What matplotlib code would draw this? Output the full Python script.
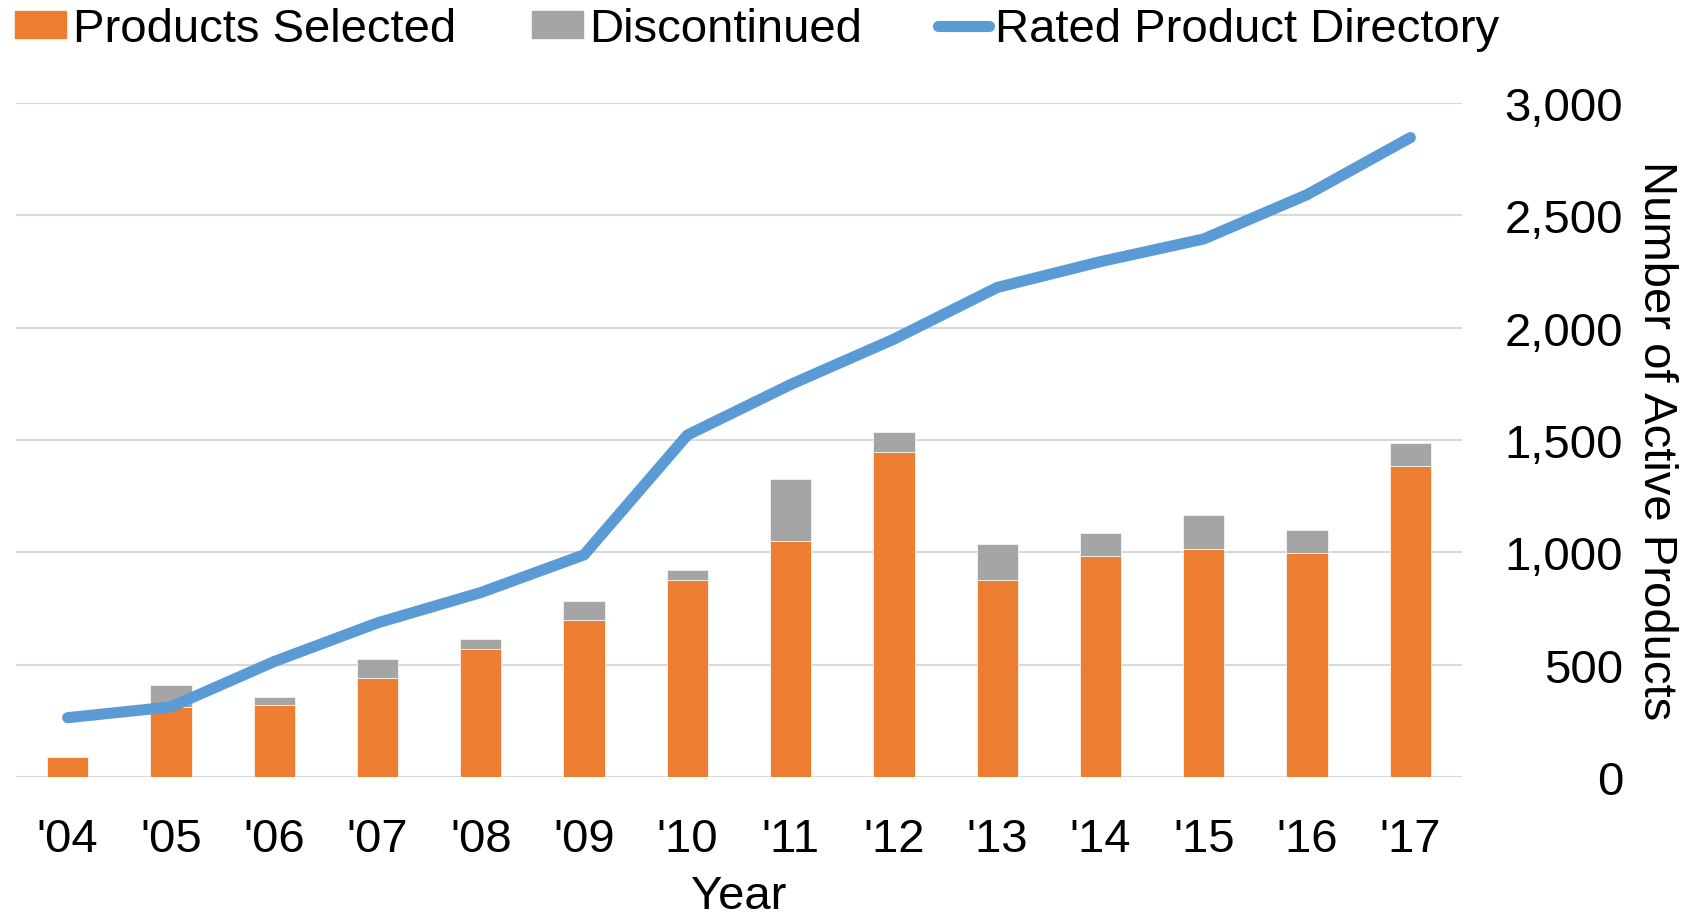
import numpy as np
import matplotlib
matplotlib.use('Agg')
import matplotlib.pyplot as plt
from matplotlib.lines import Line2D
from matplotlib.patches import Patch

plt.rcParams['font.family'] = ['Liberation Sans', 'DejaVu Sans']

# data
years = ["'04", "'05", "'06", "'07", "'08", "'09", "'10",
         "'11", "'12", "'13", "'14", "'15", "'16", "'17"]
selected = [90, 310, 320, 440, 570, 700, 875, 1050, 1445, 875, 985, 1015, 995, 1385]
discontinued = [0, 100, 35, 85, 45, 85, 45, 275, 90, 160, 100, 150, 105, 100]
directory = [264, 312, 514, 686, 821, 989, 1522, 1747, 1949, 2179, 2294, 2395, 2592, 2846]
yticks = [0, 500, 1000, 1500, 2000, 2500, 3000]

orange = '#ED7D31'
gray = '#A5A5A5'
blue = '#5B9BD5'
fs = 34

fig = plt.figure(figsize=(16.95, 9.2), dpi=100)
ax = fig.add_axes([16 / 1695, 142 / 920, 1446 / 1695, 674 / 920])

x = np.arange(len(years))
ax.bar(x, selected, width=0.4, color=orange, edgecolor='#F4F4F4', linewidth=0.6, zorder=2)
ax.bar(x, discontinued, width=0.4, bottom=selected, color=gray,
       edgecolor='#F4F4F4', linewidth=0.6, zorder=2)
ax.plot(x, directory, color=blue, lw=8, solid_capstyle='round', zorder=3)

ax.set_xlim(-0.5, len(years) - 0.5)
ax.set_ylim(0, 3000)
ax.set_xticks(x)
ax.set_xticklabels(years, fontsize=fs)
ax.set_yticks(yticks)
ax.set_yticklabels([f'{v:,}' for v in yticks], fontsize=fs, ha='right')
ax.yaxis.tick_right()
ax.tick_params(axis='y', length=0, pad=116)
ax.tick_params(axis='x', length=0, pad=29)
ax.grid(axis='y', color='#D9D9D9', lw=1.5, zorder=0)
for s in ax.spines.values():
    s.set_visible(False)

ax.set_xlabel('Year', fontsize=fs, labelpad=9)
ax.yaxis.set_label_position('right')
ax.set_ylabel('Number of Active Products', fontsize=fs, rotation=270)
ax.yaxis.label.set_va('center')
ax.yaxis.set_label_coords(1.134, 0.5)

handles = [Patch(color=orange, label='Products Selected'),
           Patch(color=gray, label='Discontinued'),
           Line2D([0], [0], color=blue, lw=8, solid_capstyle='round',
                  label='Rated Product Directory')]
fig.legend(handles=handles, loc='upper left', bbox_to_anchor=(-0.002, 1.012), ncol=3,
           frameon=False, fontsize=fs, handlelength=1.08, handleheight=0.5,
           handletextpad=0.14, columnspacing=1.6, borderaxespad=0)

fig.savefig('out.png', dpi=100)
